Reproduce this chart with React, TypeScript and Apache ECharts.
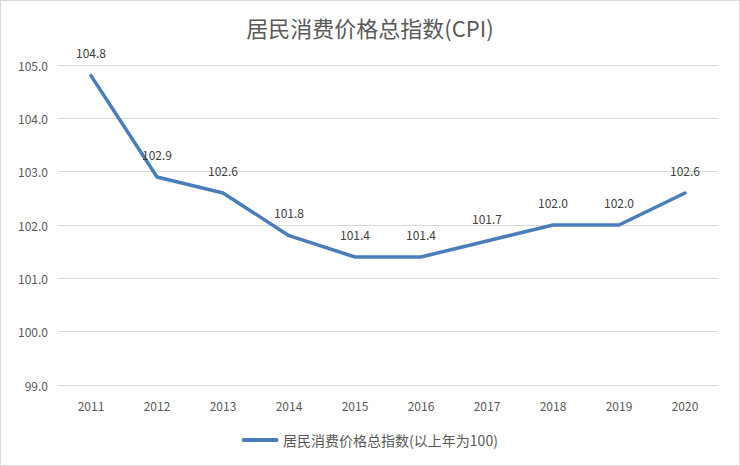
import React, { useEffect, useRef } from 'react';
import * as echarts from 'echarts';

const years = ['2011', '2012', '2013', '2014', '2015', '2016', '2017', '2018', '2019', '2020'];
const cpi = [104.8, 102.9, 102.6, 101.8, 101.4, 101.4, 101.7, 102.0, 102.0, 102.6];
const seriesName = '居民消费价格总指数(以上年为100)';

const font = '"Noto Sans CJK SC", "Noto Sans", sans-serif';

const App: React.FC = () => {
  const chartRef = useRef<HTMLDivElement>(null);

  useEffect(() => {
    document.body.style.margin = '0';
    if (!chartRef.current) return;
    const chart = echarts.init(chartRef.current, undefined, { renderer: 'svg' });

    const option: echarts.EChartsOption = {
      animation: false,
      backgroundColor: '#ffffff',
      title: {
        text: '居民消费价格总指数(CPI)',
        left: 'center',
        top: 10,
        textStyle: { fontFamily: font, fontSize: 22, fontWeight: 'normal', color: '#595959' }
      },
      grid: { left: 57, right: 21, top: 64, bottom: 80 },
      legend: {
        bottom: 13,
        icon: 'rect',
        itemWidth: 36,
        itemHeight: 4,
        itemGap: 6,
        textStyle: { fontFamily: font, fontSize: 14, color: '#595959' },
        data: [seriesName]
      },
      xAxis: {
        type: 'category',
        data: years,
        boundaryGap: true,
        axisLine: { show: false },
        axisTick: { show: false },
        axisLabel: { fontFamily: font, fontSize: 12, color: '#595959', margin: 14 }
      },
      yAxis: {
        type: 'value',
        min: 99,
        max: 105,
        interval: 1,
        axisLabel: {
          fontFamily: font,
          fontSize: 12,
          color: '#595959',
          margin: 10,
          formatter: (v: number) => v.toFixed(1)
        },
        splitLine: { lineStyle: { color: '#d9d9d9', width: 1 } }
      },
      series: [
        {
          name: seriesName,
          type: 'line',
          data: cpi,
          symbol: 'circle',
          symbolSize: 0,
          showSymbol: true,
          lineStyle: { color: '#4a7ebb', width: 3.5, cap: 'round', join: 'round' },
          itemStyle: { color: '#4a7ebb' },
          label: {
            show: true,
            position: 'top',
            distance: 17,
            fontFamily: font,
            fontSize: 12,
            color: '#404040',
            formatter: (p: any) => Number(p.value).toFixed(1)
          }
        }
      ]
    };

    chart.setOption(option);
    return () => {
      chart.dispose();
    };
  }, []);

  return (
    <div
      style={{
        width: 740,
        height: 466,
        boxSizing: 'border-box',
        border: '1px solid #d9d9d9',
        background: '#fff'
      }}
    >
      <div ref={chartRef} style={{ width: '100%', height: '100%' }} />
    </div>
  );
};

export default App;
